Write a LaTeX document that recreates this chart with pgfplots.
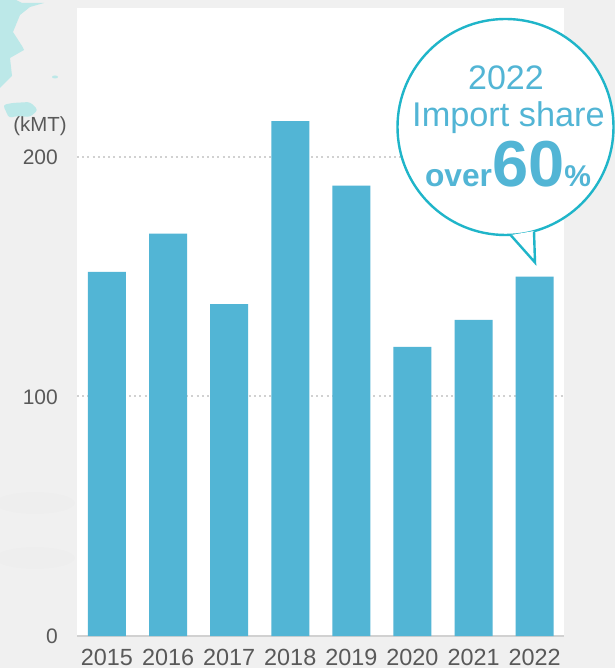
\documentclass[border=0pt]{standalone}
\usepackage{fontspec}
\usepackage{pgfplots}
\pgfplotsset{compat=1.18}
\setmainfont{Liberation Sans}
\definecolor{barblue}{HTML}{52B5D5}
\definecolor{ringteal}{HTML}{1FB5C9}
\definecolor{pagegray}{HTML}{F0F0F0}
\definecolor{maptint}{HTML}{BCE8E8}
\definecolor{ticktext}{HTML}{595959}
\begin{document}
\begin{tikzpicture}[x=1pt,y=1pt]
% page background, 1pt = 1 reference pixel
\path[use as bounding box,fill=pagegray] (0,0) rectangle (615,668);
% map fragments and smudges behind the panel
\fill[maptint] (0,668) -- (16,668) -- (22,665) -- (44,665) -- (30,661) -- (20,653) -- (13,636) -- (22,622) -- (24,618) -- (10,610) -- (12,592) -- (0,580) -- cycle;
\fill[maptint,rounded corners=3pt] (3,563) -- (12,565) -- (30,566) -- (38,558) -- (30,551) -- (17,552) -- (9,550) -- cycle;
\fill[maptint] (55,591) ellipse (3 and 1.5);
\fill[black,opacity=.008] (35,165) ellipse (40 and 11);
\fill[black,opacity=.008] (35,110) ellipse (40 and 11);
\begin{axis}[
    at={(77pt,32pt)}, anchor=south west,
    scale only axis,
    width=487pt, height=628pt,
    xmin=-0.49, xmax=7.48,
    ymin=0, ymax=262.2,
    axis background/.style={fill=white},
    axis x line*=bottom,
    axis y line*=left,
    x axis line style={draw=black!18,line width=1.8pt,-},
    y axis line style={draw=none},
    ybar, bar width=38pt, bar shift=0pt,
    xtick={0,...,7},
    xticklabels={2015,2016,2017,2018,2019,2020,2021,2022},
    ytick={0,100,200},
    major tick length=0pt,
    ymajorgrids,
    grid style={draw=black!18,line width=2pt,dash pattern=on 2pt off 3.2pt},
    xticklabel style={text=ticktext,font=\fontsize{23.4}{26}\selectfont,inner sep=0pt,text depth=0pt,yshift=-12.5pt},
    yticklabel style={text=ticktext,font=\fontsize{21}{25}\selectfont,inner sep=0pt,xshift=-19pt,yshift=-0.5pt},
    /pgf/number format/assume math mode=true,
    clip=false,
]
\addplot[draw=none,fill=barblue] coordinates {
    (0,152) (1,168) (2,138.6) (3,215) (4,188) (5,120.7) (6,132) (7,150)
};
\end{axis}
\node[anchor=base,text=ticktext,font=\fontsize{20.4}{24}\selectfont,inner sep=0pt] at (40,536) {(kMT)};
% speech bubble
\fill[white,draw=ringteal,line width=2.4pt] (505.5,541) circle (108);
\fill[white] (511,433) -- (535,405) -- (534,437) -- cycle;
\draw[ringteal,line width=2.4pt,line join=miter] (511,432.5) -- (535,405.5) -- (534,436.5);
\node[anchor=base,text=barblue,font=\fontsize{34}{38}\selectfont,inner sep=0pt] at (506,578) {2022};
\node[anchor=base,text=barblue,font=\fontsize{34.3}{38}\selectfont,inner sep=0pt] at (508.5,541) {Import share};
\node[anchor=base,text=barblue,inner sep=0pt] at (508,481.5) {\bfseries\fontsize{31.7}{34}\selectfont over\fontsize{65}{68}\selectfont 60\fontsize{30}{34}\selectfont \%};
\end{tikzpicture}
\end{document}
